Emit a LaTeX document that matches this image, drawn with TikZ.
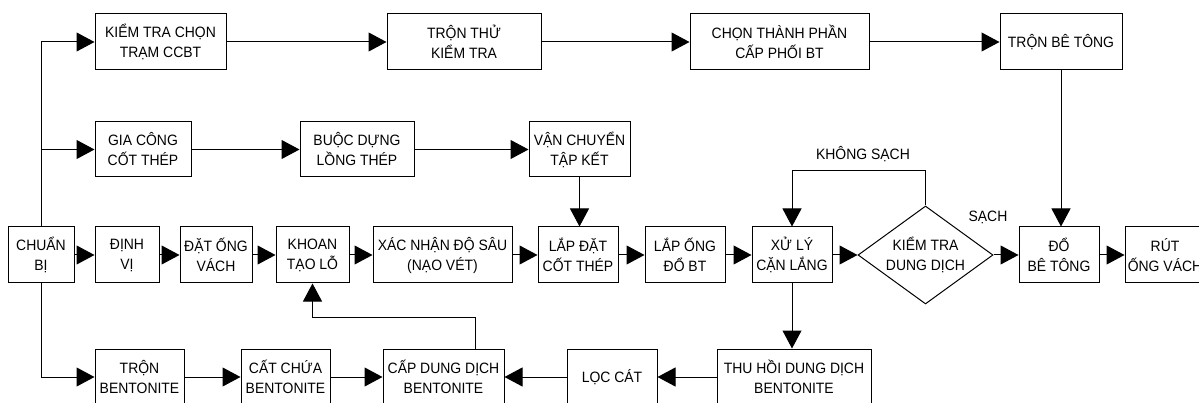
\documentclass[tikz,border=0pt]{standalone}
\usepackage{fontspec}
\setmainfont{Liberation Sans}[FakeStretch=0.93]
\usetikzlibrary{arrows.meta,shapes.geometric}
\newcommand\diagfont{\fontsize{15pt}{20pt}\selectfont}
\begin{document}
\begin{tikzpicture}[x=1pt,y=-1pt,
  box/.style={draw, line width=1pt, align=center, inner sep=0pt, font=\diagfont},
  dia/.style={draw, diamond, line width=1pt, align=center, inner sep=0pt, aspect=1.38, font=\diagfont},
  lbl/.style={inner sep=0pt, font=\diagfont},
  line/.style={line width=1pt},
  arr/.style={line width=1pt, -{Triangle[length=18pt,width=19pt]}}]
\useasboundingbox (0,0) rectangle (1199,403);
\clip (0,0) rectangle (1199,403);
% top row
\node[box, minimum width=131, minimum height=56] (k1) at (160.5,42) {KIỂM TRA CHỌN\\TRẠM CCBT};
\node[box, minimum width=154, minimum height=56] (k2) at (464,42) {TRỘN THỬ\\KIỂM TRA};
\node[box, minimum width=179, minimum height=56] (k3) at (779.5,42) {CHỌN THÀNH PHẦN\\CẤP PHỐI BT};
\node[box, minimum width=122, minimum height=56] (k4) at (1061,42) {TRỘN BÊ TÔNG};
% second row
\node[box, minimum width=96, minimum height=55] (g1) at (143,149.5) {GIA CÔNG\\CỐT THÉP};
\node[box, minimum width=114, minimum height=55] (g2) at (357,149.5) {BUỘC DỰNG\\LỒNG THÉP};
\node[box, minimum width=101, minimum height=55] (g3) at (579.5,149.5) {VẬN CHUYỂN\\TẬP KẾT};
% main row
\node[box, minimum width=66, minimum height=56] (m0) at (41,255) {CHUẨN\\BỊ};
\node[box, minimum width=64, minimum height=56] (m1) at (127,255) {ĐỊNH\\VỊ};
\node[box, minimum width=72, minimum height=56] (m2) at (216,255) {ĐẶT ỐNG\\VÁCH};
\node[box, minimum width=73, minimum height=56] (m3) at (312.5,255) {KHOAN\\TẠO LỖ};
\node[box, minimum width=139, minimum height=56] (m4) at (442.5,255) {XÁC NHẬN ĐỘ SÂU\\(NẠO VÉT)};
\node[box, minimum width=80, minimum height=56] (m5) at (578,255) {LẮP ĐẶT\\CỐT THÉP};
\node[box, minimum width=80, minimum height=56] (m6) at (685,255) {LẮP ỐNG\\ĐỔ BT};
\node[box, minimum width=80, minimum height=56] (m7) at (792,255) {XỬ LÝ\\CẶN LẮNG};
\node[dia, minimum width=135, minimum height=98] (d) at (925.5,255) {KIỂM TRA\\DUNG DỊCH};
\node[box, minimum width=80, minimum height=56] (m8) at (1059,255) {ĐỔ\\BÊ TÔNG};
\node[box, minimum width=80, minimum height=56] (m9) at (1165,255) {RÚT\\ỐNG VÁCH};
% bottom row
\node[box, minimum width=89, minimum height=56] (b1) at (139.5,377) {TRỘN\\BENTONITE};
\node[box, minimum width=89, minimum height=56] (b2) at (285.5,377) {CẤT CHỨA\\BENTONITE};
\node[box, minimum width=121, minimum height=56] (b3) at (443.5,377) {CẤP DUNG DỊCH\\BENTONITE};
\node[box, minimum width=90, minimum height=56] (b4) at (612,377) {LỌC CÁT};
\node[box, minimum width=154, minimum height=56] (b5) at (794,377) {THU HỒI DUNG DỊCH\\BENTONITE};
% labels
\node[lbl] (lk) at (863,154) {KHÔNG SẠCH};
\node[lbl] (ls) at (988,217) {SẠCH};
% coordinates
\coordinate (loop) at (925.5,171);
\coordinate (fb) at (475,317);
% trunk
\draw[line] (m0.north) -- (m0.north |- k1.west);
\draw[line] (m0.south) -- (m0.south |- b1.west);
\draw[arr] (m0.north |- k1.west) -- (k1.west);
\draw[arr] (m0.north |- g1.west) -- (g1.west);
\draw[arr] (m0.south |- b1.west) -- (b1.west);
% top row
\draw[arr] (k1) -- (k2);
\draw[arr] (k2) -- (k3);
\draw[arr] (k3) -- (k4);
% second row
\draw[arr] (g1) -- (g2);
\draw[arr] (g2) -- (g3);
\draw[arr] (g3.south) -- (g3.south |- m5.north);
% main row
\draw[arr] (m0) -- (m1);
\draw[arr] (m1) -- (m2);
\draw[arr] (m2) -- (m3);
\draw[arr] (m3) -- (m4);
\draw[arr] (m4) -- (m5);
\draw[arr] (m5) -- (m6);
\draw[arr] (m6) -- (m7);
\draw[arr] (m7.east) -- (d.west);
\draw[arr] (d.east) -- (m8.west);
\draw[arr] (m8) -- (m9);
\draw[arr] (d.north) -- (loop) -| (m7.north);
\draw[arr] (k4.south) -- (k4.south |- m8.north);
\draw[arr] (m7.south) -- (m7.south |- b5.north);
% bottom row
\draw[arr] (b1) -- (b2);
\draw[arr] (b2) -- (b3);
\draw[arr] (b5) -- (b4);
\draw[arr] (b4) -- (b3);
\draw[arr] (fb |- b3.north) -- (fb) -| (m3.south);
\end{tikzpicture}
\end{document}
